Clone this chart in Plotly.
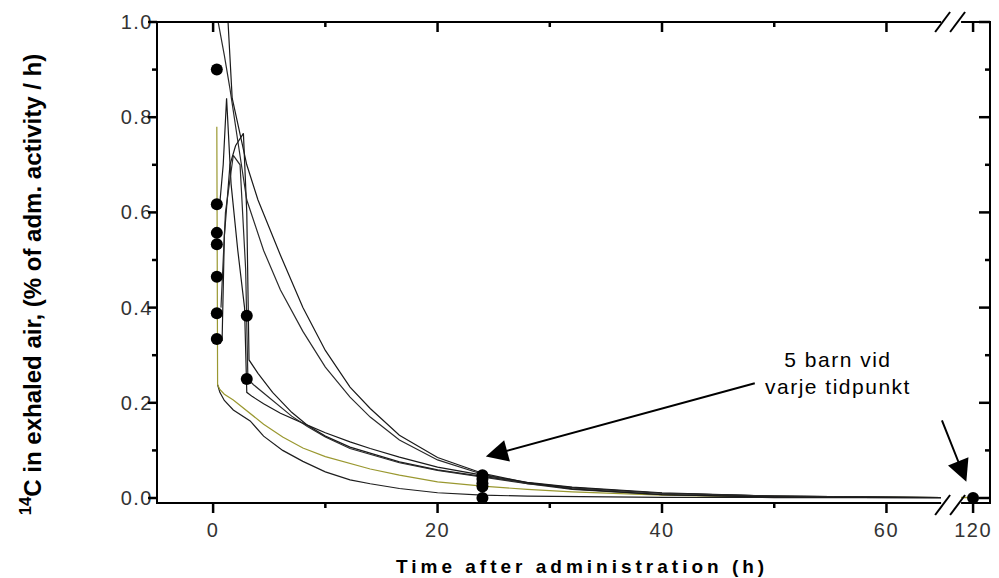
import plotly.graph_objects as go

# ---- measured activity (h, % of administered activity per hour) ----
dot_t = [0.33, 0.33, 0.33, 0.33, 0.33, 0.33, 0.33, 3.0, 3.0, 24.0, 24.0, 24.0, 24.0, 24.0]
dot_v = [0.90, 0.617, 0.557, 0.533, 0.465, 0.388, 0.334, 0.383, 0.250, 0.048, 0.040, 0.031, 0.024, 0.0]
late_t = [120.0]
late_v = [0.0]

# ---- individual model curves ----
olive_t = [0.33, 0.40, 0.6, 1.0, 1.8, 3.3, 4.5, 6.2, 8.0, 10.0, 12.2, 14.0, 16.6, 20.0, 24.0,
           28.0, 32.0, 36.0, 40.0, 45.0, 50.0, 55.0, 60.0, 65.0]
olive_v = [0.78, 0.238, 0.228, 0.218, 0.206, 0.178, 0.155, 0.128, 0.105, 0.087, 0.073, 0.061, 0.048,
           0.034, 0.025, 0.018, 0.013, 0.009, 0.006, 0.004, 0.003, 0.002, 0.0015, 0.001]

low_t = [0.40, 0.6, 1.0, 1.8, 3.3, 4.5, 6.2, 8.0, 10.0, 12.2, 14.0, 16.6, 20.0, 24.0, 28.0, 32.0,
         40.0, 50.0, 65.0]
low_v = [0.238, 0.222, 0.205, 0.185, 0.162, 0.130, 0.100, 0.077, 0.055, 0.038, 0.030, 0.020, 0.011,
         0.006, 0.004, 0.003, 0.0015, 0.001, 0.0005]

m1_t = [0.6, 0.9, 1.2, 1.6, 2.2, 2.8, 3.0, 3.5, 4.5, 6.0, 8.4, 10.0, 12.2, 14.0, 16.6, 20.0, 24.0,
        28.0, 32.0, 40.0, 50.0, 65.0]
m1_v = [0.62, 0.70, 0.84, 0.66, 0.52, 0.40, 0.222, 0.213, 0.198, 0.178, 0.153, 0.137, 0.118, 0.104,
        0.086, 0.065, 0.048, 0.033, 0.023, 0.011, 0.004, 0.001]

m2_t = [0.8, 1.0, 1.5, 2.0, 2.7, 3.0, 3.2, 4.0, 5.3, 7.0, 8.4, 10.0, 12.2, 16.6, 20.0, 24.0, 28.0,
        32.0, 40.0, 50.0, 65.0]
m2_v = [0.33, 0.55, 0.70, 0.74, 0.766, 0.60, 0.29, 0.262, 0.222, 0.180, 0.153, 0.130, 0.107, 0.076,
        0.059, 0.045, 0.032, 0.022, 0.010, 0.004, 0.001]

m3_t = [0.7, 1.1, 1.8, 2.4, 2.9, 3.1, 3.6, 5.3, 7.0, 8.4, 10.0, 12.2, 16.6, 20.0, 24.0, 28.0, 32.0,
        40.0, 50.0, 65.0]
m3_v = [0.40, 0.60, 0.72, 0.70, 0.48, 0.25, 0.238, 0.206, 0.172, 0.150, 0.128, 0.104, 0.074, 0.058,
        0.044, 0.030, 0.021, 0.010, 0.004, 0.001]

u1_t = [0.3, 0.45, 1.0, 1.5, 2.2, 3.0, 4.5, 6.0, 8.0, 10.0, 12.2, 14.0, 16.6, 20.0, 24.0, 28.0,
        32.0, 40.0, 50.0, 65.0]
u1_v = [1.08, 1.0, 0.93, 0.86, 0.75, 0.626, 0.52, 0.437, 0.35, 0.275, 0.212, 0.170, 0.122, 0.080,
        0.050, 0.030, 0.018, 0.007, 0.002, 0.0005]

u2_t = [1.2, 1.33, 1.7, 3.0, 4.0, 6.0, 8.0, 10.0, 12.2, 14.0, 16.6, 20.0, 24.0, 28.0, 32.0, 40.0,
        50.0, 65.0]
u2_v = [1.10, 1.0, 0.84, 0.70, 0.626, 0.51, 0.40, 0.31, 0.233, 0.188, 0.132, 0.085, 0.052, 0.032,
        0.019, 0.007, 0.002, 0.0005]

tail_t = [118.0, 120.0]
tail_v = [0.001, 0.001]

# ---- axes ----
x_major = [0, 20, 40, 60]
x_minor = [10, 30, 50]
x2_major = [120]
y_major = [0.0, 0.2, 0.4, 0.6, 0.8, 1.0]
y_minor = [0.1, 0.3, 0.5, 0.7, 0.9]

X_TITLE = "Time after administration (h)"
Y_TITLE = "<sup>14</sup>C in exhaled air, (% of adm. activity / h)"
NOTE = "5 barn vid<br>varje tidpunkt"

FONT = "Arial, Liberation Sans, sans-serif"
OLIVE = "#9a9830"


def spaced(s, px):
    return f"<span style='letter-spacing:{px}px'>{s}</span>"


W, H = 999, 578
ML, MR, MT, MB = 157, 7, 22, 75
PW = W - ML - MR
PH = H - MT - MB


def px_x(p):
    return (p - ML) / PW


def px_y(p):
    return (H - MB - p) / PH


XL_RANGE = [-5, 64.87]
XL_DOMAIN = [0, px_x(943)]
XR_DOMAIN = [px_x(963), 1]
X_SCALE = 786 / (XL_RANGE[1] - XL_RANGE[0])
XR_RANGE = [118.93, 118.93 + (W - MR - 963) / X_SCALE]
Y_RANGE = [-0.0105, 1.0]


def to_paper(v, rng, dom):
    return dom[0] + (v - rng[0]) / (rng[1] - rng[0]) * (dom[1] - dom[0])


fig = go.Figure()

curves = [
    (low_t, low_v, "#1e1e1e"),
    (olive_t, olive_v, OLIVE),
    (m1_t, m1_v, "#1a1a1a"),
    (m2_t, m2_v, "#1a1a1a"),
    (m3_t, m3_v, "#2a2a2a"),
    (u1_t, u1_v, "#2a2a2a"),
    (u2_t, u2_v, "#1a1a1a"),
]
for t, v, c in curves:
    fig.add_trace(go.Scatter(x=t, y=v, mode="lines", line=dict(color=c, width=1.2),
                             xaxis="x", yaxis="y", showlegend=False))

fig.add_trace(go.Scatter(x=tail_t, y=tail_v, mode="lines", line=dict(color=OLIVE, width=1.5),
                         xaxis="x2", yaxis="y", showlegend=False))

fig.add_trace(go.Scatter(x=dot_t, y=dot_v, mode="markers",
                         marker=dict(color="black", size=12, line=dict(width=0)),
                         cliponaxis=False, xaxis="x", yaxis="y", showlegend=False))
fig.add_trace(go.Scatter(x=late_t, y=late_v, mode="markers",
                         marker=dict(color="black", size=12, line=dict(width=0)),
                         cliponaxis=False, xaxis="x2", yaxis="y", showlegend=False))

tickfont = dict(family=FONT, size=20, color="#333333")
common = dict(showgrid=False, zeroline=False, showline=False, ticks="", tickmode="array",
              tickfont=tickfont)

fig.update_layout(
    width=W, height=H,
    margin=dict(l=ML, r=MR, t=MT, b=MB),
    paper_bgcolor="white", plot_bgcolor="white", dragmode=False,
    xaxis=dict(domain=XL_DOMAIN, range=XL_RANGE, anchor="y",
               tickvals=x_major, ticktext=[spaced(str(v), 1.5) for v in x_major],
               ticklabelstandoff=13, **common),
    xaxis2=dict(domain=XR_DOMAIN, range=XR_RANGE, anchor="y",
                tickvals=x2_major, ticktext=[spaced(str(v), 1.5) for v in x2_major],
                ticklabelstandoff=13, **common),
    yaxis=dict(domain=[0, 1], range=Y_RANGE, anchor="x",
               tickvals=y_major, ticktext=[spaced(f"{v:.1f}", 1.5) for v in y_major],
               ticklabelstandoff=3, **common),
)

LINE = dict(color="black", width=2)
TICK = dict(color="black", width=2.5)


def seg(x0, y0, x1, y1, style=LINE):
    fig.add_shape(type="line", xref="paper", yref="paper", x0=x0, y0=y0, x1=x1, y1=y1, line=style)


# frame: left, bottom (both segments), top (both segments), right
e = 1 / PH
seg(0, -e, 0, 1 + e)
seg(1, -e, 1, 1 + e)
for dom in (XL_DOMAIN, XR_DOMAIN):
    seg(dom[0], 0, dom[1], 0)
    seg(dom[0], 1, dom[1], 1)

# ticks: outside on bottom/left, mirrored inside on top/right
for v in x_major:
    p = to_paper(v, XL_RANGE, XL_DOMAIN)
    seg(p, 0, p, -10 / PH, TICK)
    seg(p, 1, p, 1 - 10 / PH, TICK)
for v in x_minor:
    p = to_paper(v, XL_RANGE, XL_DOMAIN)
    seg(p, 0, p, -5 / PH, TICK)
    seg(p, 1, p, 1 - 5 / PH, TICK)
for v in x2_major:
    p = to_paper(v, XR_RANGE, XR_DOMAIN)
    seg(p, 0, p, -10 / PH, TICK)
    seg(p, 1, p, 1 - 10 / PH, TICK)
for v in y_major:
    p = to_paper(v, Y_RANGE, [0, 1])
    seg(0, p, -9 / PW, p, TICK)
    seg(1, p, 1 - 11 / PW, p, TICK)
for v in y_minor:
    p = to_paper(v, Y_RANGE, [0, 1])
    seg(0, p, -5 / PW, p, TICK)
    seg(1, p, 1 - 5 / PW, p, TICK)

# axis-break slashes on the top and bottom frame
for y0, y1 in [(515, 495), (32, 12)]:
    for xs in (937, 952):
        seg(px_x(xs), px_y(y0), px_x(xs + 15), px_y(y1))

# axis titles
fig.add_annotation(text="<b>" + spaced(X_TITLE, 4) + "</b>", xref="paper", yref="paper",
                   x=px_x(583), y=px_y(566), xanchor="center", yanchor="middle",
                   showarrow=False, font=dict(family=FONT, size=19, color="black"))
fig.add_annotation(text="<b>" + Y_TITLE + "</b>", xref="paper", yref="paper",
                   x=px_x(31), y=px_y(285), xanchor="center", yanchor="middle",
                   textangle=-90, showarrow=False, font=dict(family=FONT, size=24, color="black"))

# note with arrows toward the 24 h and 120 h samples
fig.add_annotation(text=spaced(NOTE, 1.5), xref="x", yref="y", x=55.7, y=0.263,
                   xanchor="center", yanchor="middle", showarrow=False,
                   font=dict(family=FONT, size=21, color="black"))
fig.add_annotation(x=24.3, y=0.087, xref="x", yref="y", ax=48.4, ay=0.242, axref="x", ayref="y",
                   text="", showarrow=True, arrowhead=2, arrowsize=2.2, arrowwidth=2,
                   arrowcolor="black")
fig.add_annotation(x=119.4, y=0.034, xref="x2", yref="y", ax=-25, ay=-63, text="",
                   showarrow=True, arrowhead=2, arrowsize=2.2, arrowwidth=2, arrowcolor="black")

fig.write_html("out.html", config={"staticPlot": True})
